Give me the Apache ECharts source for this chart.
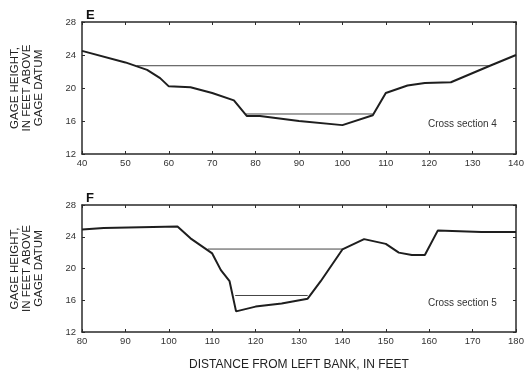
<!DOCTYPE html>
<html>
<head>
<meta charset="utf-8">
<script src="https://cdn.jsdelivr.net/npm/echarts@6/dist/echarts.min.js"></script>
<style>
  html, body { margin: 0; padding: 0; background: #fff; }
  #chart { width: 525px; height: 374px; }
</style>
</head>
<body>
<div id="chart"></div>
<script>
// cross section 4 (panel E)
var section4Distance = [40, 50, 55, 58, 60, 65, 70, 75, 78, 81, 90, 100, 107, 110, 115, 119, 125, 134, 140];
var section4Height   = [24.5, 23.1, 22.2, 21.2, 20.2, 20.1, 19.4, 18.5, 16.6, 16.6, 16.0, 15.5, 16.7, 19.4, 20.3, 20.6, 20.7, 22.7, 24.0];
var section4HighWater = [[52.6, 22.7], [134, 22.7]];
var section4LowWater  = [[77.8, 16.85], [107, 16.85]];

// cross section 5 (panel F)
var section5Distance = [80, 85, 102, 105, 110, 112, 114, 115.5, 120, 126, 132, 135, 140, 145, 150, 153, 156, 159, 162, 172, 180];
var section5Height   = [24.9, 25.1, 25.3, 23.8, 21.9, 19.8, 18.4, 14.6, 15.2, 15.6, 16.2, 18.4, 22.4, 23.7, 23.1, 22.0, 21.7, 21.7, 24.8, 24.6, 24.6];
var section5HighWater = [[109, 22.45], [140, 22.45]];
var section5LowWater  = [[115.3, 16.6], [132, 16.6]];

var heightTicks = { min: 12, max: 28, interval: 4 };

function pairs(xs, ys) {
  return xs.map(function (x, i) { return [x, ys[i]]; });
}

var lineColor = '#2a2a2a';
var titleFont = 'Liberation Sans, Arial, sans-serif';
var labelStyle = { color: '#333', fontSize: 9.5, fontFamily: titleFont };

function xAxisFor(gridIndex, min, max, pos, showName) {
  return {
    type: 'value', gridIndex: gridIndex, position: pos,
    min: min, max: max, interval: 10,
    axisLine: { show: true, onZero: false, lineStyle: { color: lineColor, width: 1.5 } },
    axisTick: { show: true, inside: true, length: 3, lineStyle: { color: lineColor } },
    axisLabel: pos === 'bottom' ? Object.assign({ margin: 4 }, labelStyle) : { show: false },
    splitLine: { show: false },
    name: showName ? 'DISTANCE FROM LEFT BANK, IN FEET' : '',
    nameLocation: 'middle', nameGap: 27,
    nameTextStyle: { color: '#222', fontSize: 12, fontFamily: titleFont }
  };
}

function yAxisFor(gridIndex, pos) {
  return {
    type: 'value', gridIndex: gridIndex, position: pos,
    min: heightTicks.min, max: heightTicks.max, interval: heightTicks.interval,
    axisLine: { show: true, onZero: false, lineStyle: { color: lineColor, width: 1.5 } },
    axisTick: { show: true, inside: true, length: 3, lineStyle: { color: lineColor } },
    axisLabel: pos === 'left' ? Object.assign({ margin: 6 }, labelStyle) : { show: false },
    splitLine: { show: false },
    name: pos === 'left' ? 'GAGE HEIGHT,\nIN FEET ABOVE\nGAGE DATUM' : '',
    nameLocation: 'middle', nameGap: 37, nameRotate: 90,
    nameTextStyle: { color: '#222', fontSize: 11.5, lineHeight: 12, fontFamily: titleFont }
  };
}

function profile(name, data, xi, yi) {
  return {
    name: name, type: 'line', xAxisIndex: xi, yAxisIndex: yi,
    data: data, symbol: 'none', silent: true,
    lineStyle: { color: '#1e1e1e', width: 2 }
  };
}

function water(name, data, xi, yi) {
  return {
    name: name, type: 'line', xAxisIndex: xi, yAxisIndex: yi,
    data: data, symbol: 'none', silent: true,
    lineStyle: { color: '#444', width: 1 }
  };
}

var chart = echarts.init(document.getElementById('chart'));
var option = {
  backgroundColor: '#fff',
  animation: false,
  title: [
    { text: 'E', left: 81, top: 4, textStyle: { fontSize: 13, fontWeight: 'bold', color: '#111', fontFamily: titleFont } },
    { text: 'F', left: 81, top: 187, textStyle: { fontSize: 13, fontWeight: 'bold', color: '#111', fontFamily: titleFont } }
  ],
  grid: [
    { left: 82, right: 9, top: 22, height: 132, containLabel: false, outerBoundsMode: 'none' },
    { left: 82, right: 9, top: 205, height: 127, containLabel: false, outerBoundsMode: 'none' }
  ],
  xAxis: [
    xAxisFor(0, 40, 140, 'bottom', false),
    xAxisFor(0, 40, 140, 'top', false),
    xAxisFor(1, 80, 180, 'bottom', true),
    xAxisFor(1, 80, 180, 'top', false)
  ],
  yAxis: [
    yAxisFor(0, 'left'),
    yAxisFor(0, 'right'),
    yAxisFor(1, 'left'),
    yAxisFor(1, 'right')
  ],
  graphic: [
    { type: 'text', left: 428, top: 119, style: { text: 'Cross section 4', fill: '#333', fontSize: 10, fontFamily: titleFont } },
    { type: 'text', left: 428, top: 298, style: { text: 'Cross section 5', fill: '#333', fontSize: 10, fontFamily: titleFont } }
  ],
  series: [
    water('high water 4', section4HighWater, 0, 0),
    water('low water 4', section4LowWater, 0, 0),
    profile('cross section 4', pairs(section4Distance, section4Height), 0, 0),
    water('high water 5', section5HighWater, 2, 2),
    water('low water 5', section5LowWater, 2, 2),
    profile('cross section 5', pairs(section5Distance, section5Height), 2, 2)
  ]
};
chart.setOption(option);
</script>
</body>
</html>
